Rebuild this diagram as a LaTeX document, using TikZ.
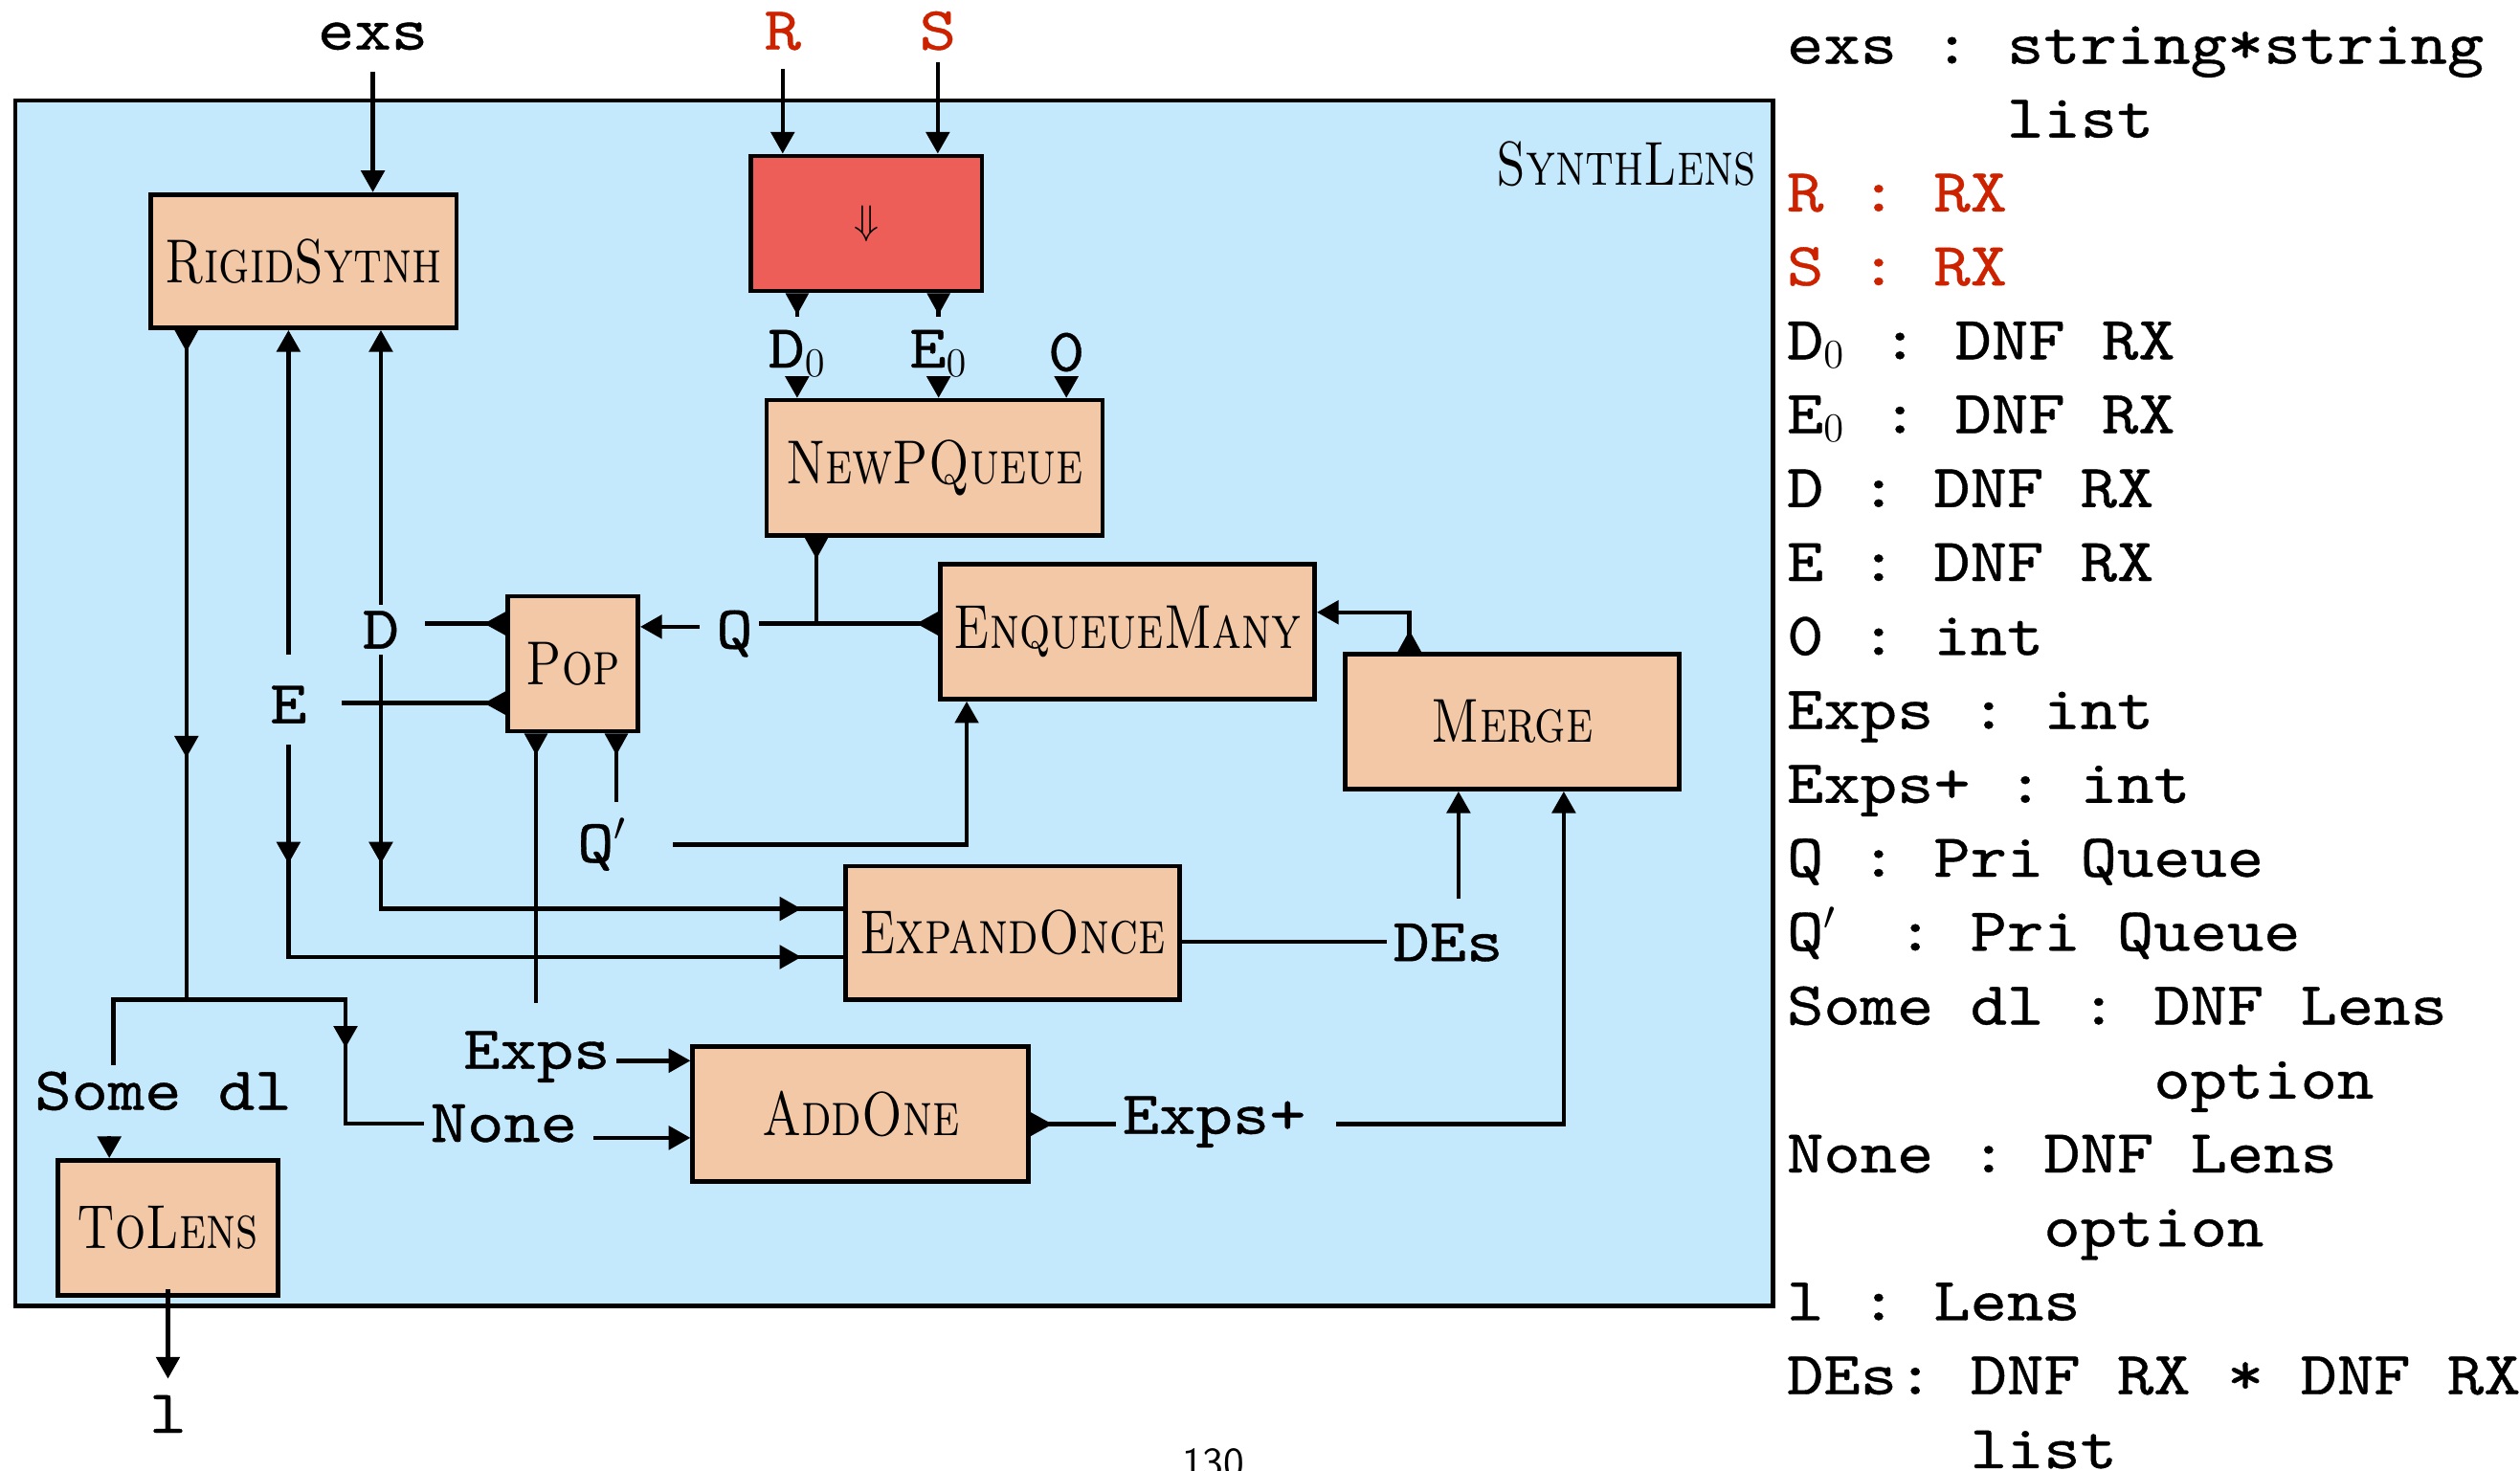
\documentclass[tikz,border=0pt]{standalone}
\usepackage{fontspec}
\usepackage{graphicx}
\usepackage{tikz}
\usetikzlibrary{arrows.meta,positioning,calc,decorations.markings}
\newfontfamily\codefont{lmmono10-regular.otf}[FakeStretch=1.14,FakeBold=0.6]
\newfontfamily\boxfont{lmromancaps10-regular.otf}[FakeStretch=0.78]
\newcommand\prm{\makebox[0pt][l]{$'$}\hphantom{0}}
\definecolor{lensBlue}{HTML}{C4E9FD}
\definecolor{blkPeach}{HTML}{F2C8A6}
\definecolor{drvRed}{HTML}{EE5E58}
\definecolor{rxRed}{HTML}{CC2200}

\begin{document}
\begin{tikzpicture}[
  blk/.style={draw,line width=1.6pt,fill=blkPeach,minimum height=1.68cm,inner sep=0pt,
    font=\boxfont\fontsize{22}{22}\selectfont},
  lbl/.style={font=\codefont\fontsize{21.7}{26}\selectfont\frenchspacing,inner sep=2pt},
  wire/.style={line width=1.5pt},
  arr/.style={-{Triangle[length=0.27cm,width=0.29cm]}},
  port/.style={{Triangle[reversed,length=0.27cm,width=0.28cm]}-},
  portarr/.style={{Triangle[reversed,length=0.27cm,width=0.28cm]}-{Triangle[length=0.27cm,width=0.29cm]}},
  midtip/.style={postaction={decorate,decoration={markings,
    mark=at position #1 with {\arrow{Triangle[length=0.27cm,width=0.29cm]}}}}}]
\useasboundingbox (0,0) rectangle (31.36,-18.30);

% the SynthLens frame
\node[draw,line width=1.6pt,fill=lensBlue,minimum width=21.87cm,minimum height=15.0cm,inner sep=0pt]
  (frame) at (11.125,-8.75) {};
\node[font=\boxfont\fontsize{22}{22}\selectfont,anchor=base east,inner sep=0pt] (lenslab) at (21.86,-2.30) {SynthLens};

% blocks
\node[blk,minimum width=3.8cm,minimum height=1.66cm] (rigid) at (3.78,-3.25) {RigidSytnh};
\node[blk,minimum width=2.88cm,fill=drvRed] (drv) at (10.78,-2.78) {\fontsize{14}{14}\selectfont$\Downarrow$};
\node[blk,minimum width=4.18cm] (newq) at (11.63,-5.82) {NewPQueue};
\node[blk,minimum width=4.66cm] (enq) at (14.03,-7.86) {EnqueueMany};
\node[blk,minimum width=1.62cm] (pop) at (7.13,-8.26) {Pop};
\node[blk,minimum width=4.16cm] (merge) at (18.82,-8.98) {Merge};
\node[blk,minimum width=4.16cm,minimum height=1.66cm] (expand) at (12.60,-11.61) {ExpandOnce};
\node[blk,minimum width=4.18cm] (addone) at (10.71,-13.86) {AddOne};
\node[blk,minimum width=2.74cm] (tolens) at (2.09,-15.28) {ToLens};

% ports on the blocks
\coordinate (rigidO) at ([xshift=-1.46cm]rigid.south);
\coordinate (split) at ([yshift=-8.33cm]rigidO);
\coordinate (newqO) at ([xshift=-1.47cm]newq.south);
\coordinate (enqQ) at ([yshift=0.10cm]enq.west);
\coordinate (enqQp) at ([xshift=-2.00cm]enq.south);
\coordinate (enqM) at ([yshift=0.24cm]enq.east);
\coordinate (popD) at ([yshift=0.50cm]pop.west);
\coordinate (popE) at ([yshift=-0.49cm]pop.west);
\coordinate (popQ) at ([yshift=0.46cm]pop.east);
\coordinate (popX) at ([xshift=-0.46cm]pop.south);
\coordinate (popQp) at ([xshift=0.54cm]pop.south);
\coordinate (mergeO) at ([xshift=-1.28cm]merge.north);
\coordinate (mergeD) at ([xshift=-0.67cm]merge.south);
\coordinate (mergeX) at ([xshift=0.64cm]merge.south);
\coordinate (expD) at ([yshift=0.30cm]expand.west);
\coordinate (expE) at ([yshift=-0.30cm]expand.west);
\coordinate (expO) at ([yshift=-0.11cm]expand.east);
\coordinate (addX) at ([yshift=0.66cm]addone.west);
\coordinate (addN) at ([yshift=-0.30cm]addone.west);
\coordinate (addO) at ([yshift=-0.13cm]addone.east);

% wire labels
\node[lbl,anchor=base] (exslab) at (4.64,-0.616) {exs};
\node[lbl,anchor=base,text=rxRed] (rlab) at (9.74,-0.616) {R};
\node[lbl,anchor=base,text=rxRed] (slab) at (11.67,-0.616) {S};
\node[lbl,anchor=base] (dzlab) at (9.92,-4.574) {D$_0$};
\node[lbl,anchor=base] (ezlab) at (11.68,-4.574) {E$_0$};
\node[lbl,anchor=base] (zlab) at (13.27,-4.616) {0};
\node[lbl,anchor=base] (qlab) at (9.14,-8.07) {Q};
\node[lbl,anchor=base] (dlab) at (4.74,-8.07) {D};
\node[lbl,anchor=base] (elab) at (3.59,-9.00) {E};
\node[lbl,anchor=base] (qplab) at (7.64,-10.73) {Q\prm};
\node[lbl,anchor=base] (deslab) at (18.02,-11.96) {DEs};
\node[lbl,anchor=base] (explab) at (6.68,-13.30) {Exps};
\node[lbl,anchor=base] (nonelab) at (6.27,-14.21) {None};
\node[lbl,anchor=base] (somelab) at (2.03,-13.81) {Some dl};
\node[lbl,anchor=base] (expplab) at (15.11,-14.11) {Exps+};
\node[lbl,anchor=base] (llab) at (2.09,-17.83) {l};

% inputs at the top
\draw[wire,arr,shorten <=0.2cm] (exslab.south) -- (exslab.south |- rigid.north);
\draw[wire,arr,shorten <=0.15cm] (rlab.south) -- (rlab.south |- drv.north);
\draw[wire,arr,shorten <=0.07cm] (slab.south) -- (slab.south |- drv.north);
\draw[wire,port] (drv.south -| dzlab) -- ++(0,-0.30);
\draw[wire,port] (drv.south -| ezlab) -- ++(0,-0.30);
\draw[wire,arr] (dzlab.south) -- (dzlab.south |- newq.north);
\draw[wire,arr] (ezlab.south) -- (ezlab.south |- newq.north);
\draw[wire,arr] (zlab.south) -- (zlab.south |- newq.north);

% queue into Pop
\draw[wire,port] (newqO) -- (newqO |- enqQ);
\draw[wire,port] (enqQ) -- (enqQ -| qlab.east);
\draw[wire,arr,shorten <=0.13cm] (qlab.west |- popQ) -- (popQ);

% D and E out of Pop
\draw[wire,port,shorten >=0.24cm] (popD) -- (popD -| dlab.east);
\draw[wire,port,shorten >=0.36cm] (popE) -- (popE -| elab.east);
\draw[wire,arr] (dlab.north) -- (dlab.north |- rigid.south);
\draw[wire,arr,shorten <=0.31cm] (elab.north) -- (elab.north |- rigid.south);
\draw[wire,midtip=2.6cm,midtip=-0.52cm] (dlab.south) |- (expD);
\draw[wire,midtip=1.48cm,midtip=-0.52cm] ([yshift=-0.19cm]elab.south) |- (expE);

% Exps and Q' out of Pop
\draw[wire,port,shorten >=0.27cm] (popX) -- (popX |- explab.north);
\draw[wire,port,shorten >=0.13cm] (popQp) -- (popQp |- qplab.north);
\draw[wire,arr,shorten <=0.2cm] (qplab.east) -| (enqQp);

% expand, merge, enqueue
\draw[wire] (expO) -- (expO -| deslab.west);
\draw[wire,arr,shorten <=0.23cm] (deslab.north -| mergeD) -- (mergeD);
\draw[wire,portarr] (mergeO) |- (enqM);

% AddOne
\draw[wire,arr] (explab.east |- addX) -- (addX);
\draw[wire,arr,shorten <=0.13cm] (nonelab.east |- addN) -- (addN);
\draw[wire,port] (addO) -- (addO -| expplab.west);
\draw[wire,arr,shorten <=0.3cm] (expplab.east |- addO) -| (mergeX);

% RigidSytnh result: Some dl / None
\draw[wire,port,midtip=5.32cm] (rigidO) -- (split);
\draw[wire] (split) -| ([xshift=-0.62cm]somelab.north);
\draw[wire,midtip=2.58cm] (split) -- ++(1.98,0) |- (nonelab.west);
\draw[wire,arr] ([xshift=-0.67cm,yshift=-0.24cm]somelab.south) -- ([xshift=-0.73cm]tolens.north);
\draw[wire,arr,shorten >=0.13cm] ([yshift=0.1cm]tolens.south) -- (llab.north);

% types
\foreach \row [count=\k from 0] in {
  {exs : string*string}, {\phantom{exs : }list},
  {\textcolor{rxRed}{R : RX}}, {\textcolor{rxRed}{S : RX}},
  {D$_0$ : DNF RX}, {E$_0$ : DNF RX}, {D : DNF RX}, {E : DNF RX},
  {0 : int}, {Exps : int}, {Exps+ : int},
  {Q : Pri Queue}, {Q\prm{} : Pri Queue},
  {Some dl : DNF Lens}, {\phantom{Some dl : }option},
  {None : DNF Lens}, {\phantom{None : }option},
  {l : Lens}, {DEs: DNF RX * DNF RX}, {\phantom{DEs: }list}}
  \node[lbl,anchor=base west,inner sep=0pt] (type\k) at (22.23,{-0.79-0.92*\k}) {\row};

\node[font=\sffamily\fontsize{15}{18}\selectfont,anchor=base] (pagenum) at (15.10,-18.38) {130};
\end{tikzpicture}
\end{document}
